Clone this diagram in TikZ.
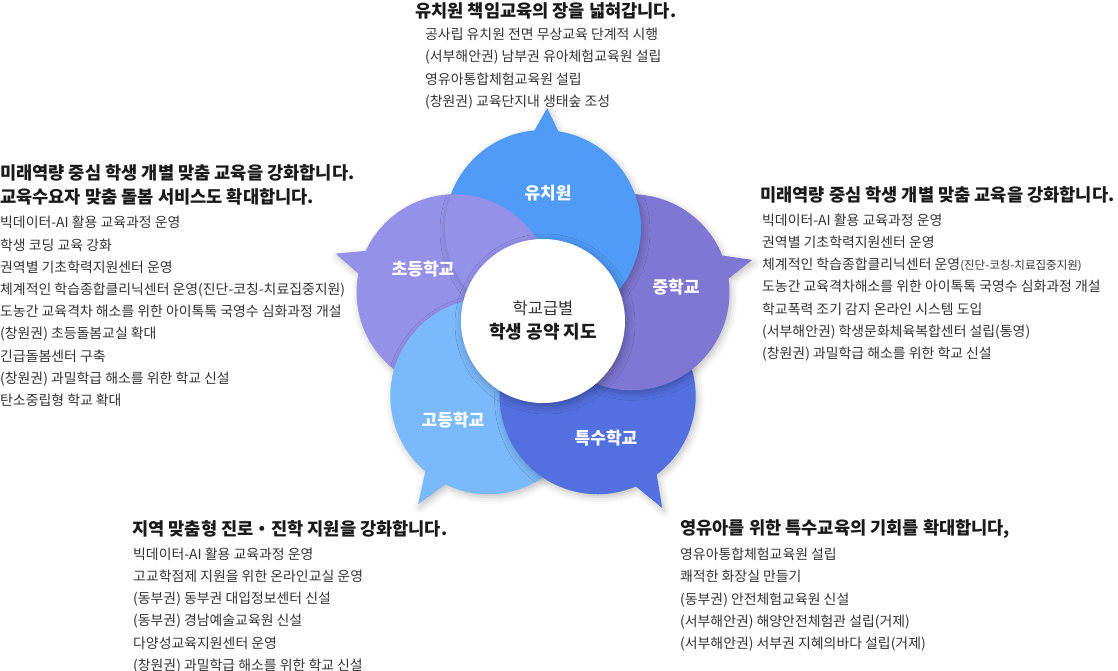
\documentclass[tikz,border=0pt]{standalone}
\usepackage{fontspec}
\setmainfont{Noto Sans CJK KR}
\usepackage{tikz}
\usetikzlibrary{calc, positioning, shadows.blur}
\usepackage{xcolor}
\definecolor{kinderBlue}{HTML}{4F9BF7}
\definecolor{elemLav}{HTML}{9590E8}
\definecolor{midPurple}{HTML}{7F77D3}
\definecolor{highSky}{HTML}{7AB9FB}
\definecolor{specBlue}{HTML}{5270E0}
\definecolor{titleInk}{HTML}{1A1A1A}
\definecolor{itemInk}{HTML}{333333}
\newcommand{\Petal}[4]{\fill[#3, blur shadow={shadow xshift=2pt, shadow yshift=-3pt, shadow blur radius=7pt, shadow opacity=25}]
    ($(#1)+(#2+7:98)$) arc[start angle=#2+7, end angle=#2+353, radius=98] -- ($(#1)+(#2:#4)$) -- cycle;}
\tikzset{
  petal label/.style={text=white, inner sep=0pt, font=\fontsize{17}{17}\selectfont\bfseries},
  plan title/.style={anchor=north west, inner sep=0pt, align=left, text=titleInk, font=\fontsize{17.6}{24.5}\selectfont\bfseries},
  plan items/.style={inner sep=0pt, align=left, text=itemInk, font=\fontsize{13.9}{22.2}\selectfont},
}

\begin{document}
\begin{tikzpicture}[x=1pt, y=-1pt]
    \useasboundingbox (0,0) rectangle (1118,671);
    \coordinate (mid) at (543,321);

    % Petals
    \coordinate (yu) at ($(mid)+(270:93)$);
    \coordinate (cho) at ($(mid)+(198:93)$);
    \coordinate (go) at ($(mid)+(126:93)$);
    \coordinate (teuk) at ($(mid)+(54:93)$);
    \coordinate (jung) at ($(mid)+(342:93)$);
    \Petal{cho}{198}{elemLav}{125}
    \Petal{go}{123}{highSky}{129}
    \Petal{teuk}{60}{specBlue}{129}
    \Petal{jung}{345}{midPurple}{125}
    \Petal{yu}{272}{kinderBlue}{120}
    \begin{scope}
        \clip (yu) circle[radius=98pt];
        \fill[elemLav] (cho) circle[radius=98pt];
    \end{scope}

    % Petal labels
    \node[petal label] (yuLabel) at (548,193) {유치원};
    \node[petal label] (choLabel) at (423,269) {초등학교};
    \node[petal label] (jungLabel) at (676,287) {중학교};
    \node[petal label] (goLabel) at (453,420) {고등학교};
    \node[petal label] (teukLabel) at (606,438) {특수학교};

    % Hub
    \node[circle, fill=white, minimum size=164pt, align=center, text=itemInk, font=\fontsize{16.5}{24}\selectfont,
          blur shadow={shadow xshift=2pt, shadow yshift=-3pt, shadow blur radius=8pt, shadow opacity=30}] (hub) at (mid)
        {학교급별\\{\fontsize{18}{24}\selectfont\bfseries\color{titleInk}학생 공약 지도}};

    % Kindergarten
    \node[plan title] (yuTitle) at (415,2) {유치원 책임교육의 장을 넓혀갑니다.};
    \node[plan items, below right=9pt and 10pt of yuTitle.south west] (yuItems) {%
        공사립 유치원 전면 무상교육 단계적 시행\\
        (서부해안권) 남부권 유아체험교육원 설립\\
        영유아통합체험교육원 설립\\
        (창원권) 교육단지내 생태숲 조성};

    % Elementary
    \node[plan title] (choTitle) at (0,164) {미래역량 중심 학생 개별 맞춤 교육을 강화합니다.\\교육수요자 맞춤 돌봄 서비스도 확대합니다.};
    \node[plan items, below right=10.5pt and 0pt of choTitle.south west] (choItems) {%
        빅데이터-AI 활용 교육과정 운영\\
        학생 코딩 교육 강화\\
        권역별 기초학력지원센터 운영\\
        체계적인 학습종합클리닉센터 운영(진단-코칭-치료집중지원)\\
        도농간 교육격차 해소를 위한 아이톡톡 국영수 심화과정 개설\\
        (창원권) 초등돌봄교실 확대\\
        긴급돌봄센터 구축\\
        (창원권) 과밀학급 해소를 위한 학교 신설\\
        탄소중립형 학교 확대};

    % Middle school
    \node[plan title] (jungTitle) at (760,186) {미래역량 중심 학생 개별 맞춤 교육을 강화합니다.};
    \node[plan items, below right=10.5pt and 2pt of jungTitle.south west] (jungItems) {%
        빅데이터-AI 활용 교육과정 운영\\
        권역별 기초학력지원센터 운영\\
        체계적인 학습종합클리닉센터 운영{\fontsize{11.5}{22}\selectfont(진단-코칭-치료집중지원)}\\
        도농간 교육격차해소를 위한 아이톡톡 국영수 심화과정 개설\\
        학교폭력 조기 감지 온라인 시스템 도입\\
        (서부해안권) 학생문화체육복합센터 설립(통영)\\
        (창원권) 과밀학급 해소를 위한 학교 신설};

    % High school
    \node[plan title] (goTitle) at (132,520) {지역 맞춤형 진로・진학 지원을 강화합니다.};
    \node[plan items, below right=10.5pt and 1pt of goTitle.south west] (goItems) {%
        빅데이터-AI 활용 교육과정 운영\\
        고교학점제 지원을 위한 온라인교실 운영\\
        (동부권) 동부권 대입정보센터 신설\\
        (동부권) 경남예술교육원 신설\\
        다양성교육지원센터 운영\\
        (창원권) 과밀학급 해소를 위한 학교 신설};

    % Special school
    \node[plan title] (teukTitle) at (680,519) {영유아를 위한 특수교육의 기회를 확대합니다,};
    \node[plan items, below right=9.5pt and 0pt of teukTitle.south west] (teukItems) {%
        영유아통합체험교육원 설립\\
        쾌적한 화장실 만들기\\
        (동부권) 안전체험교육원 신설\\
        (서부해안권) 해양안전체험관 설립(거제)\\
        (서부해안권) 서부권 지혜의바다 설립(거제)};
\end{tikzpicture}
\end{document}
